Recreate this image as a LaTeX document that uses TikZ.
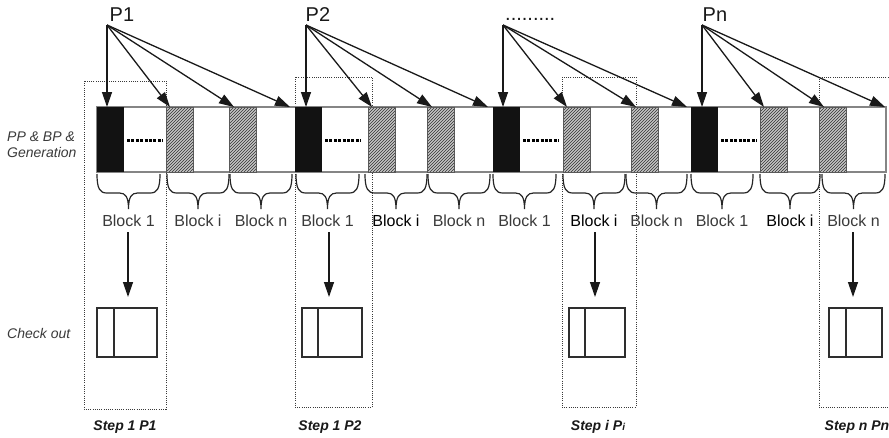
\documentclass[tikz,border=0pt]{standalone}
\usepackage{fontspec}
\setmainfont{Liberation Sans}
\usetikzlibrary{arrows.meta,patterns}

\definecolor{bargray}{HTML}{858585}
\definecolor{inkgray}{HTML}{3A3A3A}
\definecolor{hatchbg}{HTML}{C4C4C4}
\definecolor{boxline}{HTML}{2E2E2E}

% curly brace hanging below the bar, from x=#1 to x=#2
\newcommand\curlybrace[2]{%
  \pgfmathsetmacro\bm{(#1+#2)/2}%
  \draw[bracestyle] (#1,174) .. controls (#1,189) and (#1+3,193) .. (#1+10,193)
    -- (\bm-9,193) .. controls (\bm-3,193) and (\bm,197) .. (\bm,209)
    .. controls (\bm,197) and (\bm+3,193) .. (\bm+9,193)
    -- (#2-10,193) .. controls (#2-3,193) and (#2,189) .. (#2,174);%
}

\begin{document}
\begin{tikzpicture}[x=1pt,y=-1pt,
  arr/.style={line width=1.3pt, draw=black!90, -{Triangle[length=15pt,width=10pt]}},
  stepbox/.style={draw=inkgray, line width=0.9pt, dash pattern=on 1pt off 1.2pt},
  bracestyle/.style={draw=black!85, line width=1.2pt},
  dotrow/.style={line width=3pt, dash pattern=on 3pt off 1.4pt},
  hatchedge/.style={draw=black!65, line width=0.8pt},
  blocklbl/.style={font=\fontsize{16}{19}\selectfont, anchor=base, inner sep=0pt},
  plbl/.style={font=\fontsize{20}{24}\selectfont, anchor=base west, inner sep=0pt, text=black!90},
  sidelbl/.style={font=\fontsize{14}{16}\selectfont\itshape, anchor=base west, inner sep=0pt, text=inkgray},
  steplbl/.style={font=\fontsize{14}{16}\selectfont\bfseries\itshape, anchor=base, inner sep=0pt, text=black!90},
  checkbox/.style={draw=boxline, line width=1.3pt}
]
\useasboundingbox (0,0) rectangle (889,437);

% dotted step frames
\draw[stepbox] (84,81) rectangle (166,409);
\draw[stepbox] (295,77) rectangle (372,407);
\draw[stepbox] (562,77) rectangle (636,407);
\draw[stepbox] (819,77) rectangle (900,407);

% side captions
\node[sidelbl] (lblgen1) at (7,141) {PP \& BP \&};
\node[sidelbl] (lblgen2) at (7,157) {Generation};
\node[sidelbl] (lblchk) at (7,338) {Check out};

% the bar of blocks
\filldraw[draw=bargray, fill=white, line width=1.5pt] (97,107) rectangle (886,172);

\foreach \k/\s/\ha/\hb/\o/\e in {1/97/166/229/107/290, 2/295/368/427/306/488,
                                 3/493/563/631/503/687, 4/691/760/819/702/885}{
  \fill[black!93] (\s,107) rectangle ++(27,65);
  \draw[dotrow] (\s+30,140) -- (\s+66,140);
  \foreach \h in {\ha,\hb}{
    \fill[hatchbg] (\h,107) rectangle ++(27,65);
    \fill[pattern=north east lines, pattern color=black!80] (\h,107) rectangle ++(27,65);
    \draw[hatchedge] (\h,107) rectangle ++(27,65);
  }
  \coordinate (src\k) at (\o,25);
  \coordinate (t\k a) at (\o,107);
  \coordinate (t\k b) at (\ha+4,107);
  \coordinate (t\k c) at (\hb+5,107);
  \coordinate (t\k d) at (\e,107);
  \foreach \t in {a,b,c,d}
    \draw[arr] (src\k) -- (t\k\t);
}

% process labels
\node[plbl] (p1) at (109.5,21) {P1};
\node[plbl] (p2) at (305.5,21) {P2};
\node[plbl] (pdots) at (505,20) {.........};
\node[plbl] (pn) at (702.5,21) {Pn};

% braces and block names
\foreach \k/\a/\b/\txt/\col in {
   b11/97/160/Block 1/inkgray, b1i/167/229/Block i/inkgray, b1n/230/292/Block n/inkgray,
   b21/296/359/Block 1/inkgray, b2i/365/427/Block i/black, b2n/428/490/Block n/inkgray,
   b31/493/556/Block 1/inkgray, b3i/563/625/Block i/black, b3n/626/687/Block n/inkgray,
   b41/691/753/Block 1/inkgray, b4i/760/820/Block i/black, b4n/822/885/Block n/inkgray}{
  \curlybrace{\a}{\b}
  \pgfmathsetmacro\lx{(\a+\b)/2}
  \node[blocklbl, text=\col] (\k) at (\lx,226) {\txt};
}

% check-out arrows and boxes
\foreach \k/\x/\l/\r/\m in {c1/128/97/157/114, c2/329/302/362/318,
                             c3/595/569/625/585, c4/853/829/882/846}{
  \coordinate (\k top) at (\x,232);
  \coordinate (\k tip) at (\x,297);
  \draw[arr] (\k top) -- (\k tip);
  \draw[checkbox] (\l,308) rectangle (\r,357);
  \draw[checkbox, line width=1.1pt] (\m,308) -- (\m,357);
}

% step captions
\node[steplbl] (s1) at (125,430) {Step 1 P1};
\node[steplbl] (s2) at (330,430) {Step 1 P2};
\node[steplbl] (s3) at (598,430) {Step i P{\fontsize{10}{12}\selectfont i}};
\node[steplbl] (s4) at (857,430) {Step n Pn};
\end{tikzpicture}
\end{document}
